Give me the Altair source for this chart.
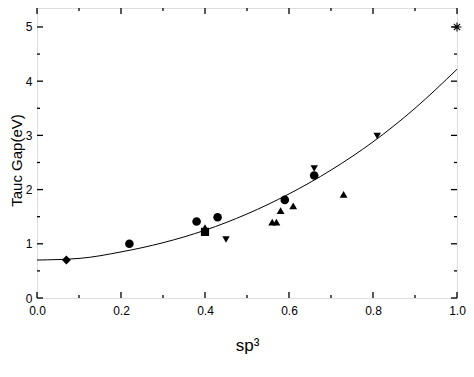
import altair as alt
import pandas as pd

# ---- data ----
diamond_x = [0.07]
diamond_y = [0.70]
circle_x = [0.22, 0.38, 0.43, 0.59, 0.66]
circle_y = [1.00, 1.41, 1.49, 1.81, 2.26]
square_x = [0.40]
square_y = [1.22]
tri_up_x = [0.40, 0.56, 0.57, 0.58, 0.61, 0.73]
tri_up_y = [1.30, 1.40, 1.40, 1.61, 1.70, 1.91]
tri_down_x = [0.45, 0.66, 0.81]
tri_down_y = [1.08, 2.39, 2.99]
star_x = [1.00]
star_y = [5.00]

fit_x = [0.0, 0.1, 0.2, 0.3, 0.4, 0.5, 0.6, 0.7, 0.8, 0.9, 1.0]
fit_y = [0.70, 0.73, 0.85, 1.02, 1.25, 1.55, 1.92, 2.36, 2.88, 3.50, 4.22]

x_major = [0.0, 0.2, 0.4, 0.6, 0.8, 1.0]
x_minor = [0.1, 0.3, 0.5, 0.7, 0.9]
y_major = [0, 1, 2, 3, 4, 5]
y_minor = [0.5, 1.5, 2.5, 3.5, 4.5]

W, H = 420, 290
FONT = "Liberation Sans"
XD = [0, 1]
YD = [0, 5.35]
MARKERS = ["diamond", "circle", "square", "triangle-up", "triangle-down"]

rows = []
for name, xs, ys in [("diamond", diamond_x, diamond_y), ("circle", circle_x, circle_y),
                     ("square", square_x, square_y), ("triangle-up", tri_up_x, tri_up_y),
                     ("triangle-down", tri_down_x, tri_down_y)]:
    for a, b in zip(xs, ys):
        rows.append({"x": a, "y": b, "marker": name})
pts = pd.DataFrame(rows)
star = pd.DataFrame({"x": star_x, "y": star_y})
fit = pd.DataFrame({"x": fit_x, "y": fit_y})
xmaj = pd.DataFrame({"v": x_major})
xmin = pd.DataFrame({"v": x_minor})
ymaj = pd.DataFrame({"v": y_major})
ymin = pd.DataFrame({"v": y_minor})

xscale = alt.Scale(domain=XD, nice=False, zero=False)
yscale = alt.Scale(domain=YD, nice=False, zero=False)

xaxis = alt.Axis(values=x_major, format=".1f", ticks=False, domain=False, grid=False,
                 labelFlush=False, labelOverlap=False,
                 labelPadding=7, labelFontSize=12, labelFont=FONT, labelColor="black",
                 title="sp³", titleFont=FONT, titleFontSize=17, titleFontWeight="normal",
                 titleColor="black", titlePadding=21)
yaxis = alt.Axis(values=y_major, format="d", ticks=False, domain=False, grid=False,
                 labelFlush=False, labelOverlap=False,
                 labelPadding=5, labelFontSize=12, labelFont=FONT, labelColor="black",
                 title="Tauc Gap(eV)", titleFont=FONT, titleFontSize=15,
                 titleFontWeight="normal", titleColor="black", titlePadding=1, titleY=152)

base_pts = alt.Chart(pts).mark_point(filled=True, opacity=1, color="black").encode(
    x=alt.X("x:Q", scale=xscale, axis=xaxis),
    y=alt.Y("y:Q", scale=yscale, axis=yaxis),
    shape=alt.Shape("marker:N", legend=None,
                    scale=alt.Scale(domain=MARKERS, range=MARKERS)),
    size=alt.Size("marker:N", legend=None,
                  scale=alt.Scale(domain=MARKERS, range=[80, 55, 55, 70, 70])),
)

star_layer = alt.Chart(star).mark_point(
    shape="M-1,0H1M0,-1V1M-0.7,-0.7L0.7,0.7M-0.7,0.7L0.7,-0.7",
    filled=False, color="black", strokeWidth=1.1, size=80, opacity=1, clip=False
).encode(x=alt.X("x:Q", scale=xscale), y=alt.Y("y:Q", scale=yscale))

fit_line = alt.Chart(fit).mark_line(color="black", strokeWidth=1, interpolate="monotone").encode(
    x=alt.X("x:Q", scale=xscale), y=alt.Y("y:Q", scale=yscale))

def vticks(df, length):
    bottom = alt.Chart(df).mark_rule(color="black", strokeWidth=1.3).encode(
        x=alt.X("v:Q", scale=xscale), y=alt.value(H), y2=alt.value(H - length))
    top = alt.Chart(df).mark_rule(color="black", strokeWidth=1.3).encode(
        x=alt.X("v:Q", scale=xscale), y=alt.value(0), y2=alt.value(length))
    return [bottom, top]

def hticks(df, length):
    left = alt.Chart(df).mark_rule(color="black", strokeWidth=1.3).encode(
        y=alt.Y("v:Q", scale=yscale), x=alt.value(0), x2=alt.value(length))
    right = alt.Chart(df).mark_rule(color="black", strokeWidth=1.3).encode(
        y=alt.Y("v:Q", scale=yscale), x=alt.value(W - length), x2=alt.value(W))
    return [left, right]

layers = [fit_line, base_pts, star_layer] + vticks(xmaj, 6) + vticks(xmin, 3) + hticks(ymaj, 6) + hticks(ymin, 3)

chart = alt.layer(*layers).properties(
    width=W, height=H,
    autosize=alt.AutoSizeParams(type="none"),
    padding={"left": 29, "top": 0, "right": 9, "bottom": 70},
).configure_view(stroke="black", strokeWidth=1.5).configure(background="white")

chart.save("out.html", embed_options={"renderer": "svg", "actions": False})
